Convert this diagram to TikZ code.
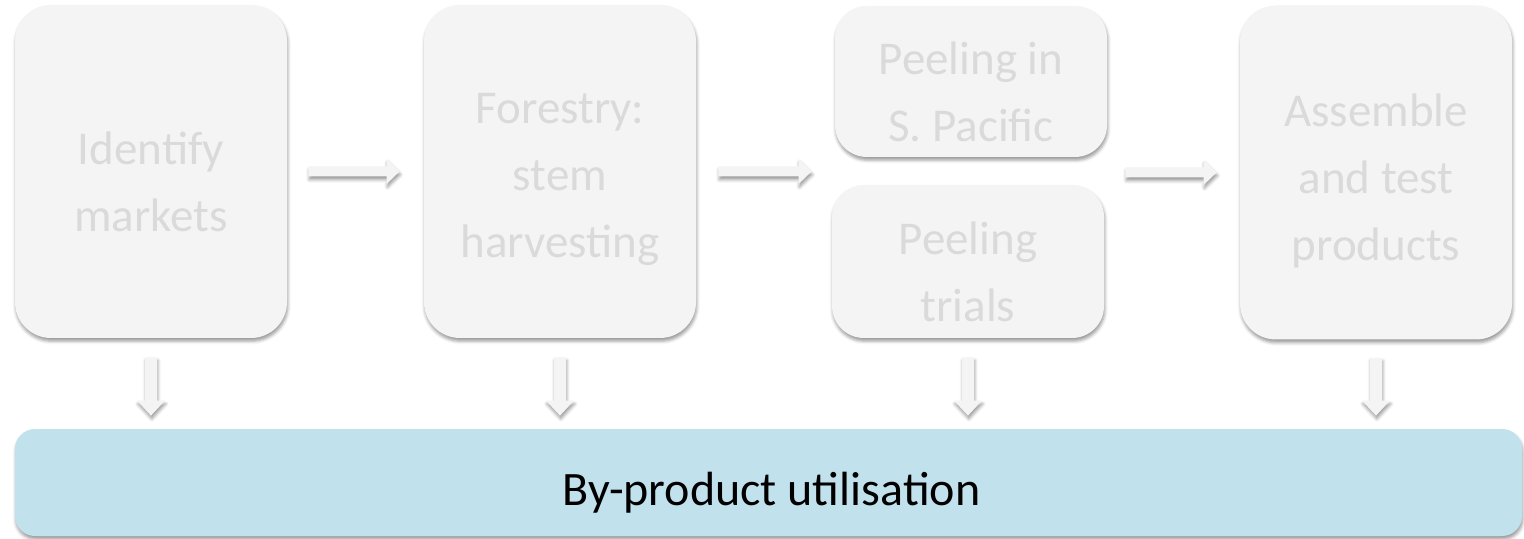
\documentclass[tikz,border=0pt]{standalone}
\usepackage{fontspec}
\setmainfont{Carlito}
\usetikzlibrary{calc,shadows.blur}
\definecolor{boxfill}{HTML}{F4F4F4}
\definecolor{boxtext}{HTML}{DADADA}
\definecolor{barfill}{HTML}{C1E1EC}
\tikzset{
  softshadow/.style={blur shadow={shadow xshift=0.4pt, shadow yshift=-1.6pt, shadow blur radius=1.6pt, shadow opacity=40}},
  stagebox/.style={draw=none, fill=boxfill, rounded corners=18pt, inner sep=0pt, minimum width=136pt, softshadow},
  stagetext/.style={text=boxtext, align=center, inner sep=0pt, font=\fontsize{23.5pt}{33.5pt}\selectfont},
  barbox/.style={draw=none, fill=barfill, rounded corners=10pt, inner sep=0pt, minimum width=753.5pt, minimum height=53.5pt, softshadow},
  bartext/.style={text=black, inner sep=0pt, font=\fontsize{24pt}{28pt}\selectfont},
  flowarrow/.style={fill=boxfill, draw=none, softshadow}
}
% horizontal connector: start node, target node, gap at start, gap at target
\newcommand\hconn[4]{%
  \fill[flowarrow] ($(#1)+(#3,-5)$) -- ($(#2)+(-#4-13,-5)$) -- ($(#2)+(-#4-13,-12.5)$) -- ($(#2)+(-#4,0)$)
    -- ($(#2)+(-#4-13,12.5)$) -- ($(#2)+(-#4-13,5)$) -- ($(#1)+(#3,5)$) -- cycle;}
% vertical connector
\newcommand\vconn[4]{%
  \fill[flowarrow] ($(#1)+(-6,#3)$) -- ($(#2)+(-6,-#4-15)$) -- ($(#2)+(-14,-#4-15)$) -- ($(#2)+(0,-#4)$)
    -- ($(#2)+(14,-#4-15)$) -- ($(#2)+(6,-#4-15)$) -- ($(#1)+(6,#3)$) -- cycle;}
\begin{document}
\begin{tikzpicture}[x=0.5pt,y=-0.5pt]
\useasboundingbox (0,0) rectangle (1524,539);
% boxes
\node[stagebox, minimum height=166.5pt] (box1) at (151,171.5) {};
\node[stagebox, minimum height=166.5pt] (box2) at (560,171.5) {};
\node[stagebox, rounded corners=16pt, minimum height=75.5pt] (box3a) at (971,81.5) {};
\node[stagebox, rounded corners=16pt, minimum height=76.5pt] (box3b) at (968,261.5) {};
\node[stagebox, minimum height=167pt] (box4) at (1376,172.5) {};
\node[barbox] (bar) at (768.5,482.5) {};
% texts
\node[stagetext, yshift=-5pt] (t1) at (box1.center) {Identify\\markets};
\node[stagetext, yshift=-4pt] (t2) at (box2.center) {Forestry:\\stem\\harvesting};
\node[stagetext, yshift=-5pt] (t3a) at (box3a.center) {Peeling in\\S. Pacific};
\node[stagetext, yshift=-5pt] (t3b) at (box3b.center) {Peeling\\trials};
\node[stagetext, yshift=-4pt] (t4) at (box4.center) {Assemble\\and test\\products};
\node[bartext, yshift=-5pt, xshift=1.5pt] (tbar) at (bar.center) {By-product utilisation};
% helper coordinates
\coordinate (h2) at (box3b.west |- box2.east);
\coordinate (h3) at (box3a.east |- box4.west);
\coordinate (d1) at (box1.south |- bar.north);
\coordinate (d2) at (box2.south |- bar.north);
\coordinate (d3) at (box3b.south |- bar.north);
\coordinate (d4) at (box4.south |- bar.north);
% connectors
\hconn{box1.east}{box2.west}{21}{24}
\hconn{box2.east}{h2}{22}{20}
\hconn{h3}{box4.west}{18}{23}
\vconn{box1.south}{d1}{19}{13}
\vconn{box2.south}{d2}{19}{13}
\vconn{box3b.south}{d3}{19}{13}
\vconn{box4.south}{d4}{18}{13}
\end{tikzpicture}
\end{document}
